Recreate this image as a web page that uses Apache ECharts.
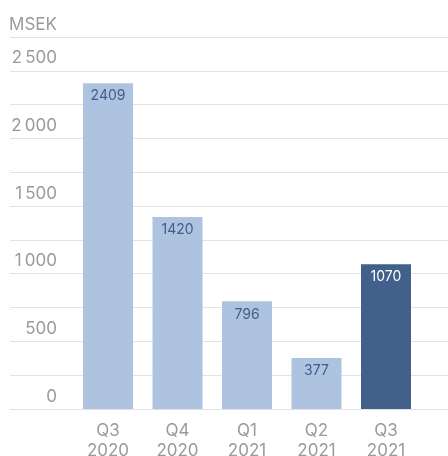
<!DOCTYPE html>
<html>
<head>
<meta charset="utf-8">
<script src="https://cdn.jsdelivr.net/npm/echarts@6/dist/echarts.min.js"></script>
<style>
html, body { margin: 0; padding: 0; background: #fff; }
#chart { width: 448px; height: 456px; }
</style>
</head>
<body>
<div id="chart"></div>
<script>
// kvartal och värden (MSEK)
var quarters = ['Q3\n2020', 'Q4\n2020', 'Q1\n2021', 'Q2\n2021', 'Q3\n2021'];
var values = [2409, 1420, 796, 377, 1070];
var highlightIndex = 4;
var yTicks = [0, 500, 1000, 1500, 2000, 2500];
var yUnit = 'MSEK';

var lightBar = '#adc3df';
var darkBar = '#41618a';
var font = 'Inter';

function fmt(v) {
    var s = String(v);
    if (s.length > 3) s = s.slice(0, s.length - 3) + '\u2009' + s.slice(-3);
    return s;
}

var chart = echarts.init(document.getElementById('chart'));
chart.setOption({
    animation: false,
    grid: [
        { left: 10, right: 0, top: 37, bottom: 47, outerBoundsMode: 'none' },
        { left: 73.25, right: 27.25, top: 37, bottom: 47, outerBoundsMode: 'none' }
    ],
    xAxis: [
        { gridIndex: 0, type: 'value', show: false },
        {
            gridIndex: 1,
            type: 'category',
            data: quarters,
            axisLine: { show: false },
            axisTick: { show: false },
            axisLabel: {
                color: '#9a9a9a',
                fontFamily: font,
                fontSize: 17,
                lineHeight: 20,
                margin: 12
            }
        }
    ],
    yAxis: [
        {
            gridIndex: 0,
            type: 'value',
            min: 0,
            max: 2750,
            interval: 250,
            axisLine: { show: false },
            axisTick: { show: false },
            splitLine: { lineStyle: { color: '#e2e2e2', width: 1 } },
            axisLabel: {
                align: 'right',
                verticalAlign: 'bottom',
                margin: -47,
                padding: [0, 0, 4, 0],
                color: '#9a9a9a',
                fontFamily: font,
                fontSize: 17,
                formatter: function (v) {
                    if (v === 2750) return yUnit;
                    return yTicks.indexOf(v) >= 0 ? fmt(v) : '';
                }
            }
        },
        {
            gridIndex: 1,
            type: 'value',
            min: 0,
            max: 2750,
            interval: 250,
            show: false
        }
    ],
    series: [
        {
            type: 'bar',
            xAxisIndex: 1,
            yAxisIndex: 1,
            barWidth: 50,
            data: values.map(function (v, i) {
                return {
                    value: v,
                    itemStyle: { color: i === highlightIndex ? darkBar : lightBar },
                    label: { color: i === highlightIndex ? '#ffffff' : '#3f5f8a' }
                };
            }),
            label: {
                show: true,
                position: 'insideTop',
                distance: 6,
                fontFamily: font,
                fontSize: 14
            }
        }
    ]
});
</script>
</body>
</html>
